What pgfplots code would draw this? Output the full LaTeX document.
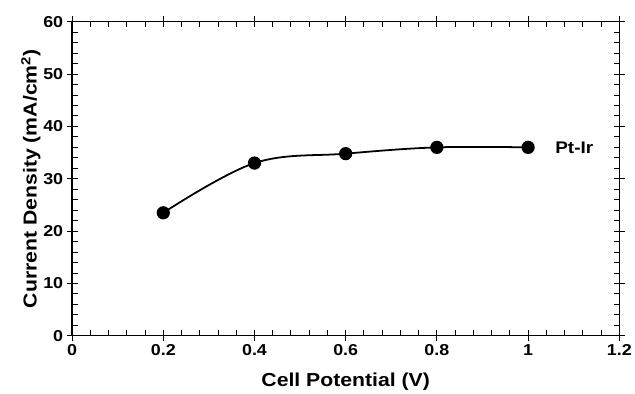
\documentclass[border=0pt]{standalone}
\usepackage{pgfplots}
\pgfplotsset{compat=1.18}
\usepackage{fontspec}
\setmainfont[FakeStretch=1.13]{Liberation Sans}
\pgfplotsset{
  common/.style={
    scale only axis,
    width=554pt, height=318pt,
    xmin=0, xmax=1.2, ymin=0, ymax=60,
    xtick={0,0.2,...,1.2},
    ytick={0,10,...,60},
    axis line style={line width=1.3pt},
    every tick/.style={black, line width=1pt},
  }
}
\begin{document}
\begin{tikzpicture}
\begin{axis}[
  common,
  xticklabels={0,0.2,0.4,0.6,0.8,1,1.2},
  tick align=center,
  major tick length=11pt,
  tick label style={font=\fontsize{16}{19}\selectfont\bfseries},
  /pgf/number format/assume math mode=true,
  xlabel={Cell Potential (V)},
  ylabel={Current Density (mA/cm\textsuperscript{2})},
  label style={font=\fontsize{19}{22}\selectfont\bfseries},
  xlabel style={yshift=-10pt},
  ylabel style={yshift=-4pt},
  clip=false,
]
\addplot[black, line width=1.8pt, smooth, tension=0.6, mark=*, mark size=5.8pt]
  coordinates {(0.2,23.5) (0.4,33.0) (0.6,34.8) (0.8,36.0) (1.0,36.0)};
\node[anchor=west, font=\fontsize{17}{20}\selectfont\bfseries] at (axis cs:1.052,36) {Pt-Ir};
\path (rel axis cs:0,1) ++(-73pt,22pt) coordinate (topext);
\path (topext) circle (0pt);
\end{axis}
\begin{axis}[
  common,
  xticklabels={}, yticklabels={},
  tick align=inside,
  major tick length=0pt,
  minor x tick num=4,
  minor y tick num=4,
  minor tick length=5.5pt,
]
\end{axis}
\end{tikzpicture}
\end{document}
